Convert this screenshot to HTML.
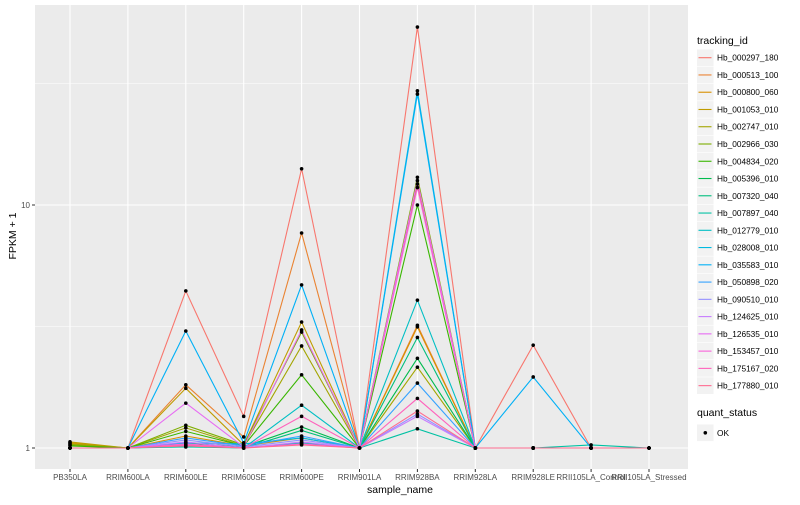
<!DOCTYPE html>
<html><head><meta charset="utf-8"><style>
body{margin:0;background:#fff;}
svg text{font-family:"Liberation Sans",sans-serif;}
</style></head><body>
<svg id="chart" width="800" height="500" xmlns="http://www.w3.org/2000/svg">
<rect x="0" y="0" width="800" height="500" fill="#fff"/>
<rect x="35" y="5" width="653" height="464" fill="#EBEBEB"/>
<g id="grid"></g>
<g id="lines"></g>
<g id="points"></g>
<g id="axes"></g>
<text x="400" y="493" font-size="10.5" text-anchor="middle" fill="#000">sample_name</text>
<text x="16" y="236" font-size="10.5" text-anchor="middle" fill="#000" transform="rotate(-90 16 236)">FPKM + 1</text>
<g id="legend"></g>
</svg>
<script>
const categories=["PB350LA","RRIM600LA","RRIM600LE","RRIM600SE","RRIM600PE","RRIM901LA","RRIM928BA","RRIM928LA","RRIM928LE","RRII105LA_Control","RRII105LA_Stressed"];
const seriesNames=["Hb_000297_180","Hb_000513_100","Hb_000800_060","Hb_001053_010","Hb_002747_010","Hb_002966_030","Hb_004834_020","Hb_005396_010","Hb_007320_040","Hb_007897_040","Hb_012779_010","Hb_028008_010","Hb_035583_010","Hb_050898_020","Hb_090510_010","Hb_124625_010","Hb_126535_010","Hb_153457_010","Hb_175167_020","Hb_177880_010"];
const colors=["#F8766D","#EA8331","#D89000","#C09B00","#A3A500","#7CAE00","#39B600","#00BB4E","#00BF7D","#00C1A3","#00BFC4","#00BAE0","#00B0F6","#35A2FF","#9590FF","#C77CFF","#E76BF3","#FA62DB","#FF62BC","#FF6C91"];
const s1=[1,1,4.43,1.35,14.1,1,54,1,2.65,1,1];
const s2=[1,1,1.82,1.11,7.67,1,3.2,1,1,1,1];
const s3=[1.05,1,1.12,1.02,1.1,1,3.15,1,1,1,1];
const s4=[1.06,1,1.76,1.03,3.3,1,12.2,1,1,1,1];
const s5=[1.04,1,1.21,1.02,2.63,1,2.15,1,1,1,1];
const s6=[1.03,1,1.24,1.03,3.0,1,13.0,1,1,1,1];
const s7=[1.02,1,1.17,1.02,2.0,1,10,1,1,1,1];
const s8=[1,1,1.05,1.01,1.22,1,2.34,1,1,1,1];
const s9=[1,1,1.03,1,1.18,1,2.85,1,1,1,1];
const s10=[1,1,1.01,1,1.05,1,1.2,1,1,1.03,1];
const s11=[1,1,1.02,1,1.5,1,4.06,1,1,1,1];
const s12=[1,1,1.05,1.04,1.1,1,29.5,1,1,1,1];
const s13=[1,1,3.03,1.05,4.69,1,28.6,1,1.96,1,1];
const s14=[1,1,1.1,1.02,1.12,1,1.85,1,1,1,1];
const s15=[1,1,1.08,1.01,1.08,1,1.38,1,1,1,1];
const s16=[1,1,1.06,1,1.06,1,1.35,1,1,1,1];
const s17=[1,1,1.53,1.01,3.06,1,12.6,1,1,1,1];
const s18=[1,1,1.04,1,1.04,1,11.8,1,1,1,1];
const s19=[1,1,1.03,1,1.35,1,1.6,1,1,1,1];
const s20=[1,1,1.02,1,1.03,1,1.42,1,1,1,1];
const series=[s1,s2,s3,s4,s5,s6,s7,s8,s9,s10,s11,s12,s13,s14,s15,s16,s17,s18,s19,s20];
const yTickVals=[1,10];
const yTickLabels=["1","10"];
const yMinorVals=[3.1623,31.623];

const NS="http://www.w3.org/2000/svg";
function el(tag,attrs,parent,txt){const e=document.createElementNS(NS,tag);for(const k in attrs)e.setAttribute(k,attrs[k]);if(txt!==undefined)e.textContent=txt;parent.appendChild(e);return e;}
function xPos(i){return 70+i*57.9;}
function yPos(v){return 448-243*Math.log10(v);}
const grid=document.getElementById('grid'),lines=document.getElementById('lines'),pts=document.getElementById('points'),axes=document.getElementById('axes'),leg=document.getElementById('legend');
yMinorVals.forEach(v=>{const l=el('line',{x1:35,x2:688,y1:yPos(v),y2:yPos(v),stroke:'#fff','stroke-width':0.5},grid);

});
yTickVals.forEach((v,i)=>{const l=el('line',{x1:35,x2:688,y1:yPos(v),y2:yPos(v),stroke:'#fff','stroke-width':1.1},grid);


const t=el('text',{x:30,y:yPos(v)+3,'font-size':8,'text-anchor':'end',fill:'#4D4D4D'},axes,yTickLabels[i]);


el('line',{x1:32,x2:35,y1:yPos(v),y2:yPos(v),stroke:'#333','stroke-width':1},axes);});
categories.forEach((c,i)=>{const l=el('line',{x1:xPos(i),x2:xPos(i),y1:5,y2:469,stroke:'#fff','stroke-width':1.1},grid);


el('line',{x1:xPos(i),x2:xPos(i),y1:469,y2:472,stroke:'#333','stroke-width':1},axes);
const t=el('text',{x:xPos(i),y:480,'font-size':8,'text-anchor':'middle',fill:'#4D4D4D'},axes,c);

});
series.forEach((s,k)=>{const d=s.map((v,i)=>(i?'L':'M')+xPos(i).toFixed(1)+','+yPos(v).toFixed(1)).join(' ');
const p=el('path',{d:d,fill:'none',stroke:colors[k],'stroke-width':1.1},lines);


s.forEach((v,i)=>{const c=el('circle',{cx:xPos(i),cy:yPos(v),r:1.8,fill:'#000'},pts);

});});
const lt=el('text',{x:697,y:44,'font-size':10.5,fill:'#000'},leg,'tracking_id');


seriesNames.forEach((n,k)=>{const cy=57.7+k*17.26;
const g=el('g',{},leg);


el('rect',{x:697,y:cy-8.3,width:16.6,height:16.6,fill:'#F2F2F2'},g);
el('line',{x1:698.5,x2:711.5,y1:cy,y2:cy,stroke:colors[k],'stroke-width':1.1},g);
el('text',{x:717,y:cy+3,'font-size':8.3,fill:'#000'},g,n);});
const qt=el('text',{x:697,y:416,'font-size':10.5,fill:'#000'},leg,'quant_status');


const g2=el('g',{},leg);


el('rect',{x:697,y:424.5,width:16.6,height:16.6,fill:'#F2F2F2'},g2);
el('circle',{cx:705.3,cy:432.8,r:1.8,fill:'#000'},g2);
el('text',{x:717,y:436,'font-size':8.3,fill:'#000'},g2,'OK');
</script>
</body></html>
